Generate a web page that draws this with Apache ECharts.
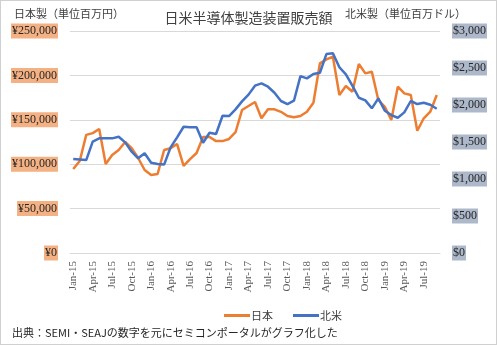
<!DOCTYPE html>
<html><head><meta charset="utf-8">
<script src="https://cdn.jsdelivr.net/npm/echarts@6/dist/echarts.min.js"></script>
<style>
html,body{margin:0;padding:0;background:#fff;}
#wrap{position:absolute;left:0;top:0;width:495px;height:343px;border:1px solid #d0d0d0;}
#c{width:497px;height:345px;position:absolute;left:0;top:0;}
</style></head>
<body><div id="wrap"></div><div id="c"></div>
<script>
var categories = ["Jan-15","Feb-15","Mar-15","Apr-15","May-15","Jun-15","Jul-15","Aug-15","Sep-15","Oct-15","Nov-15","Dec-15",
"Jan-16","Feb-16","Mar-16","Apr-16","May-16","Jun-16","Jul-16","Aug-16","Sep-16","Oct-16","Nov-16","Dec-16",
"Jan-17","Feb-17","Mar-17","Apr-17","May-17","Jun-17","Jul-17","Aug-17","Sep-17","Oct-17","Nov-17","Dec-17",
"Jan-18","Feb-18","Mar-18","Apr-18","May-18","Jun-18","Jul-18","Aug-18","Sep-18","Oct-18","Nov-18","Dec-18",
"Jan-19","Feb-19","Mar-19","Apr-19","May-19","Jun-19","Jul-19","Aug-19","Sep-19"];
// Japan, million yen
var japan = [94600,103600,133000,135000,139600,100200,110300,116000,125000,118000,107000,93500,
87800,89000,116000,118000,122700,98000,105800,112600,130600,130600,126000,126000,
128400,136000,161000,165500,170000,151700,161800,161800,159000,154300,152800,154300,
159000,169200,213600,218000,221000,177900,188000,181600,212800,202300,204200,172300,
164700,149800,187300,179800,177900,137700,151700,159100,177900];
// North America, million dollars
var northAmerica = [1270,1263,1256,1504,1549,1549,1549,1571,1495,1369,1279,1347,
1220,1202,1195,1428,1563,1706,1698,1698,1490,1625,1608,1855,
1851,1941,2049,2140,2261,2293,2247,2166,2054,2013,2058,2391,
2360,2418,2436,2688,2698,2510,2414,2261,2098,2063,1955,2090,
1923,1864,1828,1900,2054,2013,2031,2004,1950];
var leftTicks = [0,50000,100000,150000,200000,250000];
var rightTicks = [0,500,1000,1500,2000,2500,3000];

function fmt(n){return n.toString().replace(/\B(?=(\d{3})+(?!\d))/g, ',');}
var serif = 'Liberation Serif, DejaVu Serif, serif';
var cjk = 'Noto Sans CJK JP, Noto Sans, sans-serif';

var chart = echarts.init(document.getElementById('c'));
chart.setOption({
  animation:false,
  title:{text:'日米半導体製造装置販売額',left:'center',top:6,
    textStyle:{fontFamily:cjk,fontSize:14,fontWeight:'normal',color:'#404040'}},
  graphic:[
    {type:'text',left:14,top:8,style:{text:'日本製（単位百万円）',font:'11px '+cjk,fill:'#404040'}},
    {type:'text',left:345,top:8,style:{text:'北米製（単位百万ドル）',font:'11px '+cjk,fill:'#404040'}},
    {type:'text',left:12,top:327,style:{text:'出典：SEMI・SEAJの数字を元にセミコンポータルがグラフ化した',font:'11px '+cjk,fill:'#262626'}}
  ],
  legend:{left:219,top:305,itemGap:20,itemWidth:26,itemHeight:3,icon:'rect',
    textStyle:{fontFamily:cjk,fontSize:11,color:'#404040',padding:[0,0,0,-4]},
    data:['日本','北米']},
  grid:{left:70,right:57,top:31,bottom:92},
  xAxis:{type:'category',data:categories,boundaryGap:true,
    axisLine:{lineStyle:{color:'#d9d9d9'}},axisTick:{show:false},
    axisLabel:{interval:2,rotate:90,fontFamily:serif,fontSize:11,color:'#595959',margin:8}},
  yAxis:[
    {type:'value',min:leftTicks[0],max:leftTicks[leftTicks.length-1],interval:50000,position:'left',
     splitLine:{lineStyle:{color:'#d9d9d9'}},axisLine:{show:false},axisTick:{show:false},
     axisLabel:{formatter:function(v){return '¥'+fmt(v);},fontFamily:serif,fontSize:12,color:'#262626',
       backgroundColor:'#F4B183',padding:[2,1,1,1],margin:12}},
    {type:'value',min:rightTicks[0],max:rightTicks[rightTicks.length-1],interval:500,position:'right',
     splitLine:{show:false},axisLine:{show:false},axisTick:{show:false},
     axisLabel:{formatter:function(v){return '$'+fmt(v);},fontFamily:serif,fontSize:12,color:'#262626',
       backgroundColor:'#ADB9CA',padding:[2,1,1,1],margin:12}}
  ],
  series:[
    {name:'日本',type:'line',data:japan,yAxisIndex:0,showSymbol:false,
     lineStyle:{color:'#ED7D31',width:2.5},itemStyle:{color:'#ED7D31'}},
    {name:'北米',type:'line',data:northAmerica,yAxisIndex:1,showSymbol:false,
     lineStyle:{color:'#4472C4',width:2.5},itemStyle:{color:'#4472C4'}}
  ]
});
</script></body></html>
